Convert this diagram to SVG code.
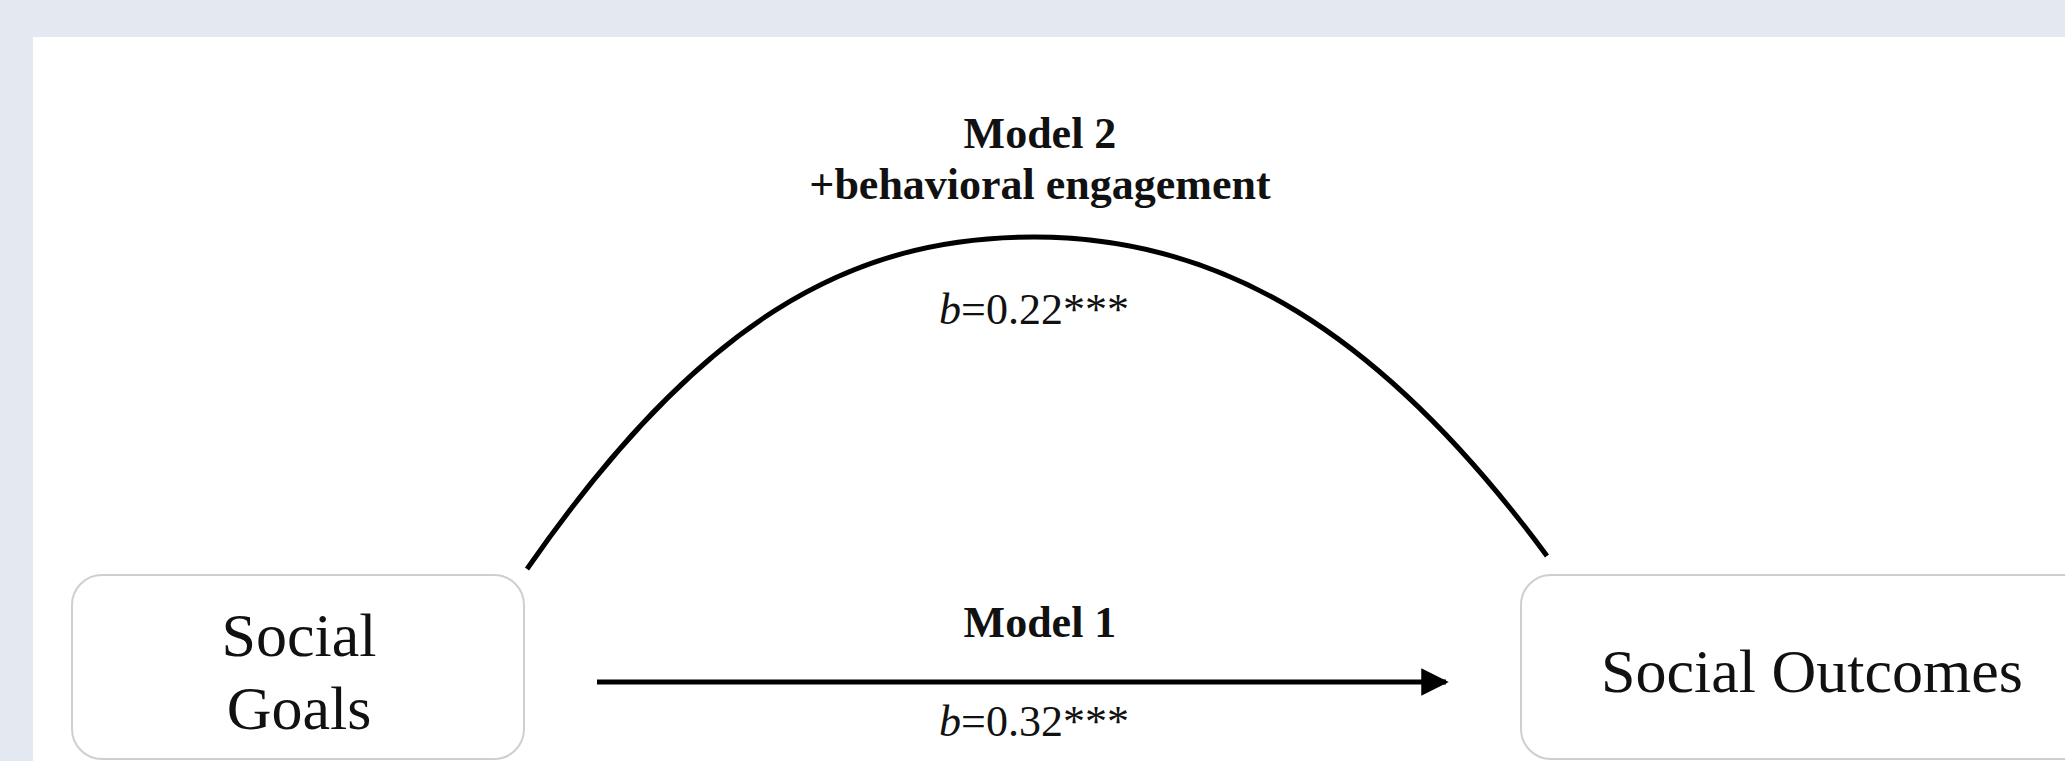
<svg xmlns="http://www.w3.org/2000/svg" width="2065" height="761" viewBox="0 0 2065 761">
<defs>
<style>
.node{fill:#fff;stroke:#cfcfcf;stroke-width:2}
.nt{font-family:"Liberation Serif",serif;font-size:62px;fill:#111;text-anchor:middle}
.bl{font-family:"Liberation Serif",serif;font-size:44px;font-weight:bold;fill:#111;text-anchor:middle}
.cf{font-family:"Liberation Serif",serif;font-size:44px;fill:#111;text-anchor:middle}
.edge{fill:none;stroke:#000;stroke-width:5}
</style>
<marker id="ah" viewBox="0 0 10 10" refX="9" refY="5" markerWidth="5.5" markerHeight="5.5" orient="auto" markerUnits="strokeWidth">
<path d="M0,0 L10,5 L0,10 Z" fill="#000"/>
</marker>
</defs>
<rect x="0" y="0" width="2065" height="761" fill="#e4e8f0"/>
<rect x="33" y="37" width="2040" height="740" fill="#fff"/>
<g id="node-social-goals">
<rect class="node" x="72" y="575" width="452" height="184" rx="30"/>
<text class="nt" x="299" y="656">Social</text>
<text class="nt" x="299" y="729">Goals</text>
</g>
<g id="node-social-outcomes">
<rect class="node" x="1521" y="575" width="580" height="184" rx="30"/>
<text class="nt" x="1812" y="692">Social Outcomes</text>
</g>
<g id="connectors">
<line class="edge" x1="597" y1="682" x2="1446" y2="682" marker-end="url(#ah)"/>
<path class="edge" d="M527,569 C700,320 850,237 1034,237 C1220,237 1380,330 1547,556"/>
</g>
<g id="labels">
<text class="bl" x="1040" y="148">Model 2</text>
<text class="bl" x="1040" y="199">+behavioral engagement</text>
<text class="cf" x="1034" y="324"><tspan font-style="italic">b</tspan>=0.22***</text>
<text class="bl" x="1040" y="637">Model 1</text>
<text class="cf" x="1034" y="736"><tspan font-style="italic">b</tspan>=0.32***</text>
</g>
</svg>
